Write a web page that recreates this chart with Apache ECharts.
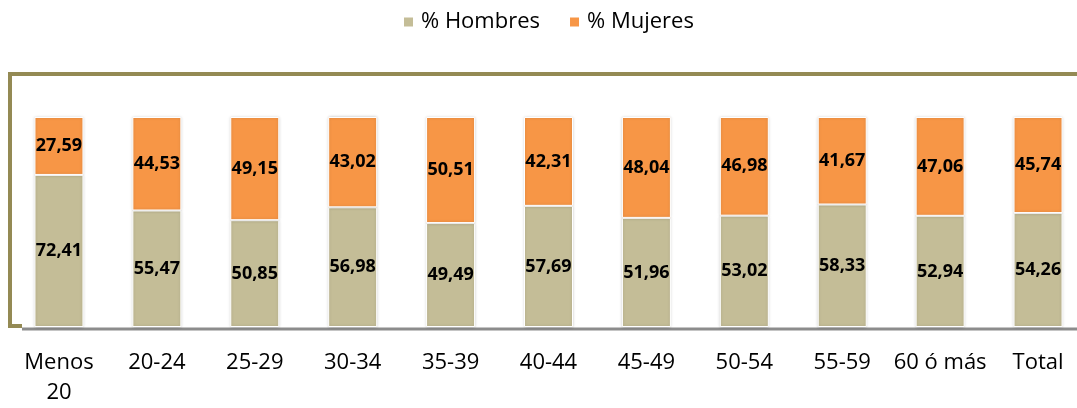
<!DOCTYPE html>
<html>
<head>
<meta charset="utf-8">
<script src="https://cdn.jsdelivr.net/npm/echarts@6/dist/echarts.min.js"></script>
<style>
  html, body { margin: 0; padding: 0; background: #fff; }
  #chart { width: 1077px; height: 408px; }
</style>
</head>
<body>
<div id="chart"></div>
<script>
// Age groups along the x axis
const categories = ['Menos\n20', '20-24', '25-29', '30-34', '35-39', '40-44', '45-49', '50-54', '55-59', '60 ó más', 'Total'];
// Share of men and women per age group (%)
const hombres = [72.41, 55.47, 50.85, 56.98, 49.49, 57.69, 51.96, 53.02, 58.33, 52.94, 54.26];
const mujeres = [27.59, 44.53, 49.15, 43.02, 50.51, 42.31, 48.04, 46.98, 41.67, 47.06, 45.74];
const seriesNames = ['% Hombres', '% Mujeres'];

const FONT = '"Open Sans", "Noto Sans", sans-serif';
const fmt = p => p.value.toFixed(2).replace('.', ',');

const chart = echarts.init(document.getElementById('chart'), null, { renderer: 'canvas' });

const barStyle = color => ({
  color: color,
  borderColor: '#ffffff',
  borderWidth: 1,
  shadowColor: 'rgba(0,0,0,0.18)',
  shadowBlur: 3
});

const labelStyle = {
  show: true,
  position: 'inside',
  formatter: fmt,
  color: '#000',
  fontFamily: FONT,
  fontWeight: 'bold',
  fontSize: 18
};

chart.setOption({
  animation: false,
  backgroundColor: '#ffffff',
  legend: {
    top: 6,
    left: 397,
    itemWidth: 11,
    itemHeight: 11,
    itemGap: 28,
    icon: 'rect',
    textStyle: { fontFamily: FONT, fontSize: 22, color: '#000', padding: [0, 0, 0, 2] },
    data: seriesNames
  },
  graphic: [
    {
      type: 'polyline',
      z: 0,
      shape: { points: [[1077, 74], [10, 74], [10, 326], [22, 326]] },
      style: { stroke: '#948a54', lineWidth: 4, fill: null }
    },
    {
      type: 'line',
      z: 0,
      shape: { x1: 22, y1: 329, x2: 1077, y2: 329 },
      style: { stroke: '#8c8c8c', lineWidth: 3 }
    }
  ],
  grid: { left: 10, width: 1077, top: 117, height: 210, outerBoundsMode: 'none' },
  xAxis: {
    type: 'category',
    data: categories,
    axisLine: { show: false },
    axisTick: { show: false },
    axisLabel: {
      color: '#000',
      fontFamily: FONT,
      fontSize: 22,
      lineHeight: 30,
      margin: 21,
      interval: 0
    }
  },
  yAxis: { type: 'value', min: 0, max: 100, show: false },
  series: [
    {
      name: seriesNames[0],
      type: 'bar',
      stack: 'total',
      barWidth: 49,
      data: hombres,
      itemStyle: barStyle('#c4bd97'),
      label: labelStyle
    },
    {
      name: seriesNames[1],
      type: 'bar',
      stack: 'total',
      barWidth: 49,
      data: mujeres,
      itemStyle: barStyle('#f79646'),
      label: labelStyle
    }
  ]
});
</script>
</body>
</html>
